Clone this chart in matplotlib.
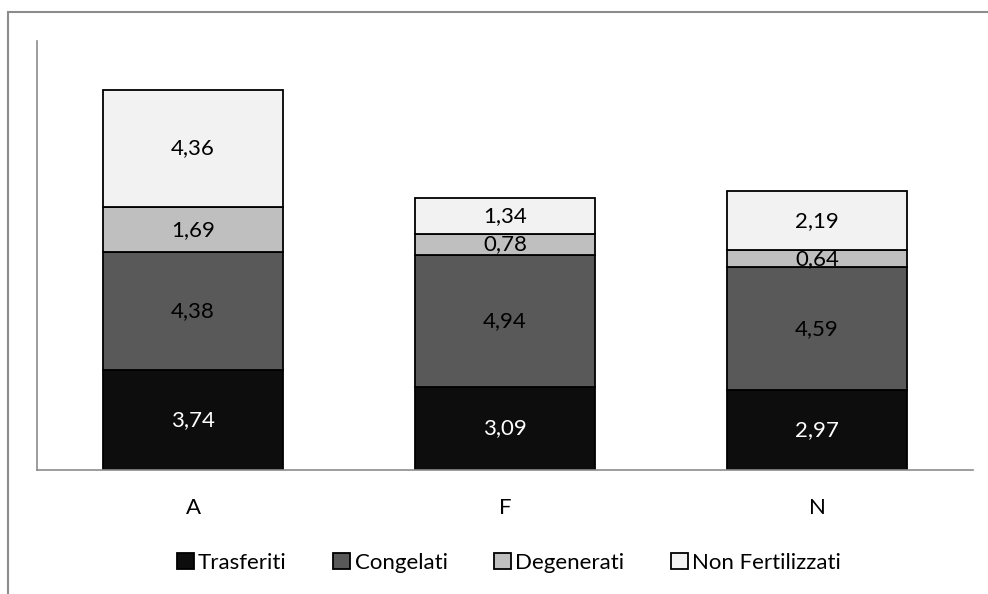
import matplotlib.pyplot as plt
from matplotlib.patches import Rectangle

categories = ["A", "F", "N"]
series_names = ["Trasferiti", "Congelati", "Degenerati", "Non Fertilizzati"]
trasferiti = [3.74, 3.09, 2.97]
congelati = [4.38, 4.94, 4.59]
degenerati = [1.69, 0.78, 0.64]
non_fertilizzati = [4.36, 1.34, 2.19]

colors = ["#0d0d0d", "#595959", "#bfbfbf", "#f2f2f2"]
text_colors = ["white", "black", "black", "black"]

plt.rcParams["font.family"] = ["Lato", "DejaVu Sans"]
FS = 16

W, H = 988, 594
fig = plt.figure(figsize=(W / 100, H / 100), dpi=100)
ax = fig.add_axes([37 / W, 1 - 470 / H, (973 - 37) / W, (470 - 41) / H])

# outer chart border (only top and left visible)
fig.patches.append(Rectangle((8 / W, -0.5), 2.0, 1 - 12 / H + 0.5,
                             transform=fig.transFigure, fill=False,
                             edgecolor="#8c8c8c", linewidth=1.5))

x = range(len(categories))
bottom = [0.0] * len(categories)
for vals, name, col, tc in zip([trasferiti, congelati, degenerati, non_fertilizzati],
                               series_names, colors, text_colors):
    bars = ax.bar(x, vals, width=0.577, bottom=bottom, color=col,
                  edgecolor="black", linewidth=1.3, label=name)
    labels = [f"{v:.2f}".replace(".", ",") for v in vals]
    ax.bar_label(bars, labels=labels, label_type="center", color=tc, fontsize=FS)
    bottom = [b + v for b, v in zip(bottom, vals)]

ax.set_xlim(-0.5, 2.5)
ax.set_ylim(0, 16)
ax.set_yticks([])
ax.set_xticks(list(x))
ax.set_xticklabels(categories, fontsize=FS)
ax.tick_params(axis="x", length=0, pad=20)
for side in ["top", "right"]:
    ax.spines[side].set_visible(False)
for side in ["left", "bottom"]:
    ax.spines[side].set_color("#8c8c8c")
    ax.spines[side].set_linewidth(1.2)

fig.legend(loc="center", bbox_to_anchor=(509 / W, 1 - 563 / H), ncol=4,
           frameon=False, fontsize=FS, handlelength=0.75, handleheight=0.75,
           handletextpad=0.2, columnspacing=2.1)

fig.savefig("out.png", dpi=100)
